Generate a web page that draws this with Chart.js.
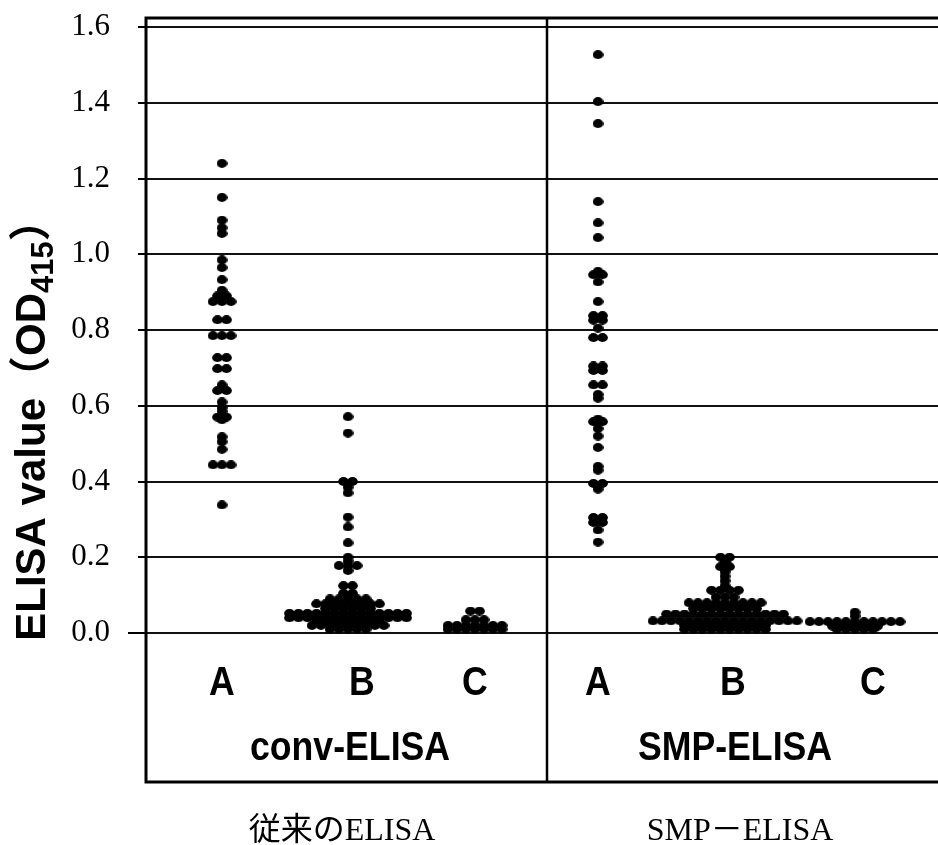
<!DOCTYPE html>
<html>
<head>
<meta charset="utf-8">
<script src="https://cdn.jsdelivr.net/npm/chart.js@4.4.1/dist/chart.umd.min.js"></script>
<style>
body { margin: 0; background: #fff; }
#wrap { width: 938px; height: 845px; position: relative; }
</style>
</head>
<body>
<div id="wrap"><canvas id="chart"></canvas></div>
<script>
// ELISA values (OD415), as [value, number of dots at that value]
const convA = [[1.24,1],[1.15,1],[1.09,1],[1.07,1],[1.055,1],[0.985,1],[0.965,1],[0.933,1],[0.905,1],[0.89,2],[0.875,3],
  [0.827,2],[0.785,3],[0.727,2],[0.698,2],[0.655,1],[0.64,2],[0.61,1],[0.595,1],[0.585,1],[0.57,2],[0.563,1],
  [0.518,1],[0.505,1],[0.485,1],[0.444,3],[0.338,1]];
const convB = [[0.571,1],[0.528,1],[0.40,2],[0.385,1],[0.37,1],[0.306,1],[0.28,1],[0.238,1],[0.20,1],[0.19,1],[0.178,3],
  [0.165,1],[0.125,2],[0.105,2],[0.09,5],[0.077,8],[0.065,6],[0.052,14],[0.04,14],[0.03,8],[0.02,9],[0.01,5]];
const convC = [[0.058,2],[0.035,3],[0.02,7],[0.01,7]];
const smpA = [[1.527,1],[1.403,1],[1.345,1],[1.139,1],[1.083,1],[1.044,1],[0.955,1],[0.946,2],[0.927,1],[0.875,1],
  [0.838,2],[0.826,2],[0.805,1],[0.78,2],[0.705,2],[0.693,2],[0.655,2],[0.63,1],[0.62,1],[0.565,1],[0.558,2],
  [0.54,1],[0.52,1],[0.49,1],[0.44,1],[0.43,1],[0.395,2],[0.38,1],[0.305,2],[0.292,2],[0.272,1],[0.24,1]];
const smpB = [[0.20,2],[0.19,1],[0.175,2],[0.162,1],[0.15,1],[0.138,1],[0.125,1],[0.113,4],[0.095,3],[0.08,9],
  [0.065,8],[0.05,14],[0.032,17],[0.02,10],[0.01,10]];
const smpC = [[0.055,1],[0.045,1],[0.03,11],[0.018,6],[0.01,5]];

const groups = [convA, convB, convC, smpA, smpB, smpC];
const groupLabels = ['A', 'B', 'C', 'A', 'B', 'C'];
const methodLabels = ['conv-ELISA', 'SMP-ELISA'];
const methodLabelsJa = ['従来のELISA', 'SMP－ELISA'];
const yTicks = [0, 0.2, 0.4, 0.6, 0.8, 1.0, 1.2, 1.4, 1.6];

// layout (x in pixels from the left frame)
const dotX = [76, 202, 329, 452, 579, 709];
const labelX = [76, 216, 329, 452, 587, 727];
const methodX = [204, 589];
const methodJaX = [196, 594];
const dividerX = 401;
const dotStep = 9;

// dot: a slightly flattened ellipse like the scanned figure
const dot = document.createElement('canvas');
dot.width = 11; dot.height = 9;
let dctx = dot.getContext('2d');
dctx.fillStyle = '#000';
dctx.beginPath();
dctx.ellipse(5.5, 4.5, 5.4, 4.4, 0, 0, Math.PI * 2);
dctx.fill();

function spread(rows, cx) {
  let pts = [];
  rows.forEach(r => {
    let n = r[1];
    for (let i = 0; i < n; i++) {
      pts.push({ x: cx + (i - (n - 1) / 2) * dotStep, y: r[0] });
    }
  });
  return pts;
}

let datasets = groups.map((g, i) => ({
  data: spread(g, dotX[i]),
  pointStyle: dot,
  pointRadius: 5,
  pointHoverRadius: 5
}));

const framePlugin = {
  id: 'frame',
  afterDraw(chart) {
    let ctx = chart.ctx;
    let a = chart.chartArea;
    let xs = chart.scales.x, ys = chart.scales.y;
    let y0 = ys.getPixelForValue(0);
    ctx.save();
    ctx.strokeStyle = '#000';
    // frame
    ctx.lineWidth = 3;
    ctx.beginPath();
    ctx.moveTo(940, a.top); ctx.lineTo(a.left, a.top); ctx.lineTo(a.left, a.bottom); ctx.lineTo(940, a.bottom);
    ctx.stroke();
    ctx.lineWidth = 2.5;
    ctx.beginPath();
    let dx = xs.getPixelForValue(dividerX);
    ctx.moveTo(dx, a.top); ctx.lineTo(dx, a.bottom);
    ctx.stroke();
    // longer tick at 0.0
    ctx.lineWidth = 2;
    ctx.beginPath();
    ctx.moveTo(a.left - 18, y0); ctx.lineTo(a.left, y0);
    ctx.stroke();

    ctx.fillStyle = '#000';
    ctx.textAlign = 'center';
    ctx.textBaseline = 'alphabetic';
    // A B C
    groupLabels.forEach((t, i) => {
      ctx.save();
      ctx.translate(xs.getPixelForValue(labelX[i]), 695);
      ctx.scale(0.87, 1);
      ctx.font = 'bold 41px "Liberation Sans"';
      ctx.fillText(t, 0, 0);
      ctx.restore();
    });
    methodLabels.forEach((t, i) => {
      ctx.save();
      ctx.translate(xs.getPixelForValue(methodX[i]), 760);
      ctx.scale(0.87, 1);
      ctx.font = 'bold 41px "Liberation Sans"';
      ctx.fillText(t, 0, 0);
      ctx.restore();
    });
    ctx.font = '32px "Liberation Serif", "Noto Sans CJK JP"';
    methodLabelsJa.forEach((t, i) => {
      ctx.fillText(t, xs.getPixelForValue(methodJaX[i]), 840);
    });

    // y title with subscript
    ctx.translate(45, 420);
    ctx.rotate(-Math.PI / 2);
    ctx.textAlign = 'left';
    let big = 'bold 42px "Liberation Sans", "Noto Sans CJK JP"';
    let small = 'bold 31px "Liberation Sans"';
    let p1 = 'ELISA value（OD', p2 = '415', p3 = '）';
    ctx.font = big; let w1 = ctx.measureText(p1).width, w3 = ctx.measureText(p3).width;
    ctx.font = small; let w2 = ctx.measureText(p2).width;
    let x = -(w1 + w2 + w3) / 2;
    ctx.font = big; ctx.fillText(p1, x, 0); x += w1;
    ctx.font = small; ctx.fillText(p2, x, 8); x += w2;
    ctx.font = big; ctx.fillText(p3, x, 0);
    ctx.restore();
  }
};

let ctx = document.getElementById('chart').getContext('2d');
let myChart = new Chart(ctx, {
  type: 'scatter',
  data: { datasets: datasets },
  options: {
    responsive: true,
    maintainAspectRatio: false,
    animation: false,
    events: [],
    layout: { autoPadding: false, padding: { left: 0, right: 0, top: 18, bottom: 63 } },
    plugins: { legend: { display: false }, tooltip: { enabled: false } },
    scales: {
      x: { type: 'linear', min: 0, max: 792, display: false },
      y: {
        type: 'linear',
        min: -149 / 378.75,
        max: 615 / 378.75,
        afterBuildTicks: (axis) => { axis.ticks = yTicks.map(v => ({ value: v })); },
        afterFit: (axis) => { axis.width = 146; axis.paddingTop = 0; axis.paddingBottom = 0; },
        border: { display: false },
        grid: { color: '#111', lineWidth: 2, tickLength: 8, tickColor: '#000', tickWidth: 2 },
        ticks: {
          padding: 28,
          color: '#000',
          font: { family: '"Liberation Serif"', size: 31 },
          callback: (v) => Number(v).toFixed(1)
        }
      }
    }
  },
  plugins: [framePlugin]
});
</script>
</body>
</html>
